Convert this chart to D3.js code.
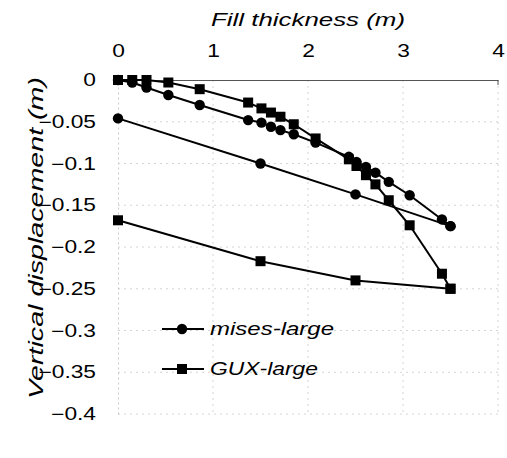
<!DOCTYPE html>
<html>
<head>
<meta charset="utf-8">
<script src="https://cdn.jsdelivr.net/npm/d3@7"></script>
<style>
  html, body { margin: 0; padding: 0; background: #fff; }
  svg { display: block; }
  text { font-family: "Liberation Sans", Arial, sans-serif; fill: #000; }
</style>
</head>
<body>
<svg id="chart" width="507" height="458"></svg>
<script>
// ---- data ----
const thickness = [0, 0.15, 0.30, 0.53, 0.86, 1.37, 1.51, 1.61, 1.71, 1.85, 2.08, 2.43, 2.51, 2.61, 2.71, 2.85, 3.07, 3.41, 3.5];
const misesStaged = [0, -0.003, -0.009, -0.018, -0.030, -0.048, -0.051, -0.056, -0.060, -0.065, -0.075, -0.092, -0.098, -0.104, -0.111, -0.122, -0.138, -0.167, -0.175];
const guxStaged   = [0, 0, 0, -0.003, -0.011, -0.027, -0.034, -0.039, -0.044, -0.053, -0.070, -0.095, -0.103, -0.114, -0.125, -0.144, -0.174, -0.232, -0.250];
const thicknessFull = [0, 1.5, 2.5, 3.5];
const misesFull = [-0.046, -0.100, -0.137, -0.175];
const guxFull   = [-0.168, -0.217, -0.240, -0.250];
const seriesNames = ["mises-large", "GUX-large"];
const xTicks = [0, 1, 2, 3, 4];
const yTicks = [0, -0.05, -0.1, -0.15, -0.2, -0.25, -0.3, -0.35, -0.4];
const xTitle = "Fill thickness (m)";
const yTitle = "Vertical displacement (m)";

// each series is one polyline: full-fill points, then staged points back to 0
function buildSeries(fullVals, stagedVals) {
  const pts = thicknessFull.map((t, i) => ({x: t, y: fullVals[i]}));
  const staged = thickness.map((t, i) => ({x: t, y: stagedVals[i]}));
  return pts.concat(staged.slice().reverse());
}
const series = [
  {name: seriesNames[0], marker: "circle", pts: buildSeries(misesFull, misesStaged)},
  {name: seriesNames[1], marker: "square", pts: buildSeries(guxFull, guxStaged)}
];

// ---- layout ----
const svg = d3.select("#chart");
const x = d3.scaleLinear().domain([0, 4]).range([118, 498]);
const y = d3.scaleLinear().domain([-0.4, 0]).range([414, 80]);
const SX = 1.3; // horizontal stretch of glyphs in the scanned original
const FS = 17.5;

// faint dotted grid
const grid = svg.append("g");
grid.selectAll("line.h").data(yTicks.filter(d => d !== 0)).join("line")
  .attr("x1", x(0)).attr("x2", x(4)).attr("y1", d => y(d)).attr("y2", d => y(d))
  .attr("stroke", "#d4d4d4").attr("stroke-width", 1).attr("stroke-dasharray", "2,4");
grid.selectAll("line.v").data(xTicks.filter(d => d !== 0)).join("line")
  .attr("x1", d => x(d)).attr("x2", d => x(d)).attr("y1", y(0)).attr("y2", y(-0.4))
  .attr("stroke", "#d4d4d4").attr("stroke-width", 1).attr("stroke-dasharray", "2,4");

// top axis
const xAxis = svg.append("g").attr("transform", `translate(0,${y(0)})`)
  .call(d3.axisTop(x).tickValues(xTicks).tickSize(0).tickPadding(23).tickFormat(d3.format("d")));
xAxis.select(".domain").attr("stroke", "#555").attr("stroke-width", 1);
xAxis.selectAll("text").attr("font-size", FS)
  .attr("font-family", "'Liberation Sans', Arial, sans-serif")
  .attr("transform", `scale(${SX},1)`);
// small closing tick at the right end of the top axis
svg.append("line").attr("x1", x(4)).attr("x2", x(4)).attr("y1", y(0)).attr("y2", y(0) + 5)
  .attr("stroke", "#555").attr("stroke-width", 1);

// left axis
const yAxis = svg.append("g").attr("transform", `translate(${x(0)},0)`)
  .call(d3.axisLeft(y).tickValues(yTicks).tickSize(0).tickPadding(0).tickFormat(d => d === 0 ? "0" : d3.format("")(d)));
yAxis.select(".domain").attr("stroke", "#c8c8c8").attr("stroke-dasharray", "2,3");
yAxis.selectAll("text").attr("font-size", FS)
  .attr("font-family", "'Liberation Sans', Arial, sans-serif")
  .attr("x", -22 / SX)
  .attr("transform", `scale(${SX},1)`);

// titles
svg.append("text").attr("x", 308).attr("y", 26).attr("text-anchor", "middle")
  .attr("font-size", 19).attr("font-style", "italic")
  .attr("textLength", 194).attr("lengthAdjust", "spacingAndGlyphs").text(xTitle);
svg.append("text").attr("transform", "translate(43,238) rotate(-90)").attr("text-anchor", "middle")
  .attr("font-size", 20).attr("font-style", "italic")
  .attr("textLength", 322).attr("lengthAdjust", "spacingAndGlyphs").text(yTitle);

// series
const line = d3.line().x(d => x(d.x)).y(d => y(d.y));
function drawMarker(g, type, cx, cy) {
  if (type === "circle") {
    g.append("circle").attr("cx", cx).attr("cy", cy).attr("r", 5.2).attr("fill", "#000");
  } else {
    g.append("rect").attr("x", cx - 5).attr("y", cy - 5).attr("width", 10).attr("height", 10).attr("fill", "#000");
  }
}
series.forEach(s => {
  const g = svg.append("g");
  g.append("path").datum(s.pts).attr("d", line).attr("fill", "none")
    .attr("stroke", "#000").attr("stroke-width", 2).attr("stroke-linejoin", "round");
  s.pts.forEach(p => drawMarker(g, s.marker, x(p.x), y(p.y)));
});

// legend
const legendY = [329, 369];
const legendW = [124, 108];
series.forEach((s, i) => {
  const g = svg.append("g");
  g.append("line").attr("x1", 162).attr("x2", 204).attr("y1", legendY[i]).attr("y2", legendY[i])
    .attr("stroke", "#000").attr("stroke-width", 2);
  drawMarker(g, s.marker, 182, legendY[i]);
  g.append("text").attr("x", 210).attr("y", legendY[i] + 6)
    .attr("font-size", 18).attr("font-style", "italic")
    .attr("textLength", legendW[i]).attr("lengthAdjust", "spacingAndGlyphs").text(s.name);
});
</script>
</body>
</html>
